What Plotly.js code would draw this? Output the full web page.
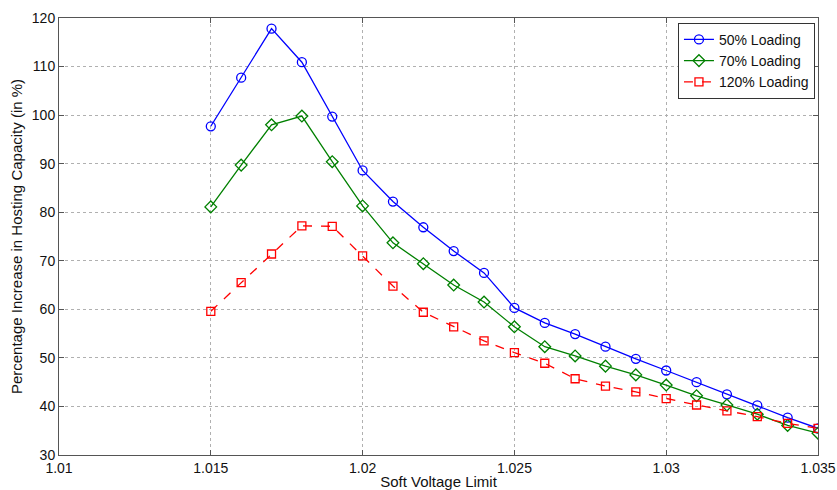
<!DOCTYPE html>
<html>
<head>
<meta charset="utf-8">
<script src="https://cdn.plot.ly/plotly-3.0.1.min.js"></script>
<style>html,body{margin:0;padding:0;background:#fff;}#chart{width:837px;height:490px;}</style>
</head>
<body>
<div id="chart"></div>
<script>
const voltageLimits = [1.015,1.016,1.017,1.018,1.019,1.020,1.021,1.022,1.023,1.024,1.025,1.026,1.027,1.028,1.029,1.030,1.031,1.032,1.033,1.034,1.035];
const loading50 = [97.7,107.7,117.8,110.9,99.7,88.6,82.2,76.9,72.0,67.5,60.3,57.2,54.9,52.3,49.8,47.4,45.0,42.5,40.2,37.7,35.5];
const loading70 = [81.1,89.7,98.0,99.8,90.4,81.3,73.7,69.4,65.0,61.5,56.4,52.3,50.4,48.3,46.5,44.4,42.2,40.3,38.4,36.1,34.5];
const loading120 = [59.6,65.5,71.4,77.2,77.1,71.0,64.8,59.4,56.4,53.5,51.1,48.9,45.7,44.2,43.0,41.6,40.3,39.1,37.9,36.5,35.5];
const seriesNames = ["50% Loading","70% Loading","120% Loading"];
const xTicks = [1.01,1.015,1.02,1.025,1.03,1.035];
const xTickLabels = ["1.01","1.015","1.02","1.025","1.03","1.035"];
const yTicks = [30,40,50,60,70,80,90,100,110,120];

const traces = [
  {x: voltageLimits, y: loading50, name: seriesNames[0], mode: "lines+markers",
   line: {color: "#0000ff", width: 1.3}, marker: {symbol: "circle-open", size: 9, color: "#0000ff", line: {width: 1.3}}},
  {x: voltageLimits, y: loading70, name: seriesNames[1], mode: "lines+markers",
   line: {color: "#008000", width: 1.3}, marker: {symbol: "diamond-open", size: 9, color: "#008000", line: {width: 1.3}}},
  {x: voltageLimits, y: loading120, name: seriesNames[2], mode: "lines+markers",
   line: {color: "#ff0000", width: 1.3, dash: "dash"}, marker: {symbol: "square-open", size: 8, color: "#ff0000", line: {width: 1.3}}}
];

const axisCommon = {
  showline: true, linecolor: "#555", linewidth: 1, mirror: "ticks",
  ticks: "inside", ticklen: 5, tickcolor: "#555",
  showgrid: true, gridcolor: "#b0b0b0", griddash: "dot", gridwidth: 1,
  zeroline: false, tickfont: {family: "Arial, Liberation Sans, sans-serif", size: 14, color: "#111"}
};

const layout = {
  width: 837, height: 490,
  margin: {l: 59, r: 19, t: 18, b: 35},
  paper_bgcolor: "#fff", plot_bgcolor: "#fff",
  font: {family: "Arial, Liberation Sans, sans-serif", color: "#111"},
  xaxis: Object.assign({}, axisCommon, {
    range: [1.01, 1.035], tickvals: xTicks, ticktext: xTickLabels,
    title: {text: "Soft Voltage Limit", font: {size: 15, color: "#111"}, standoff: 0}
  }),
  yaxis: Object.assign({}, axisCommon, {
    range: [30, 120], tickvals: yTicks,
    title: {text: "Percentage Increase in Hosting Capacity (in %)", font: {size: 15, color: "#111"}, standoff: 5}
  }),
  showlegend: true,
  legend: {
    x: 0.996, y: 0.989, xanchor: "right", yanchor: "top",
    bgcolor: "#fff", bordercolor: "#333", borderwidth: 1,
    font: {size: 14, color: "#111"}, tracegroupgap: 0, itemwidth: 30
  }
};

Plotly.newPlot("chart", traces, layout, {displayModeBar: false, staticPlot: true});
</script>
</body>
</html>
